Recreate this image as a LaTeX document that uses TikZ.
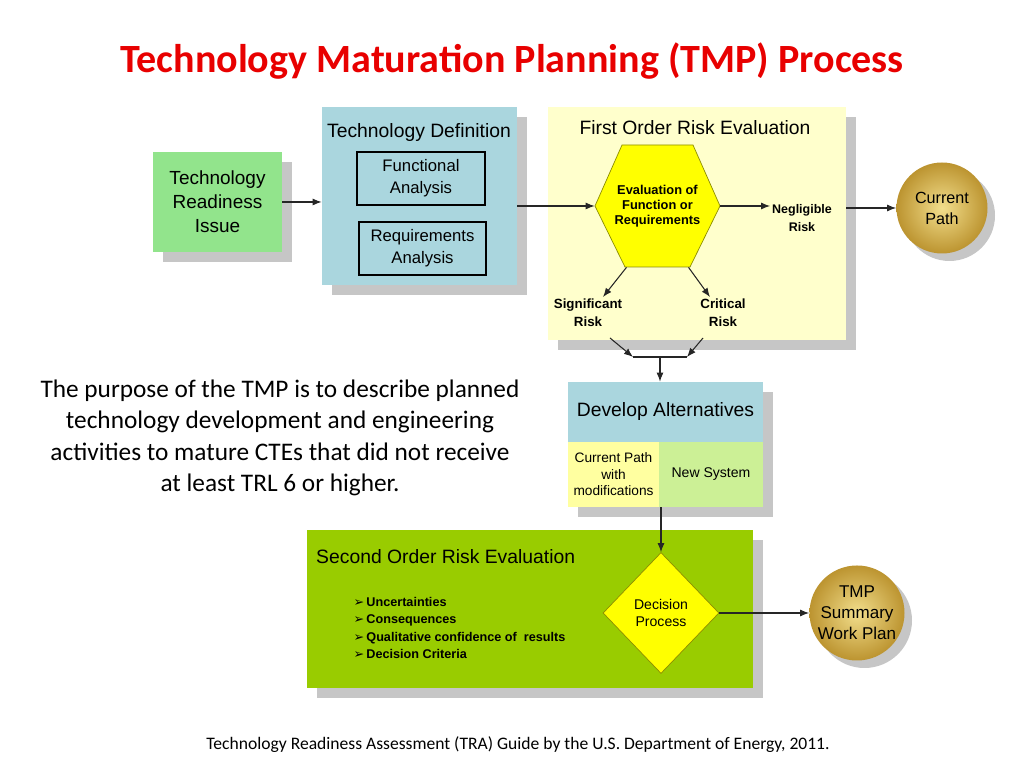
\documentclass[tikz,border=0pt]{standalone}
\usepackage{fontspec}
\setmainfont{Carlito}
\newfontfamily\diagfont{Liberation Sans}
\newfontfamily\symfont{DejaVu Sans}
\usetikzlibrary{arrows.meta,positioning,calc,shapes.geometric,shadows}
\definecolor{titlered}{RGB}{232,0,0}
\definecolor{issuegreen}{RGB}{146,228,140}
\definecolor{defblue}{RGB}{170,214,222}
\definecolor{riskyellow}{RGB}{255,255,204}
\definecolor{hexyellow}{RGB}{255,255,0}
\definecolor{hexedge}{RGB}{140,140,0}
\definecolor{secgreen}{RGB}{153,204,0}
\definecolor{modyellow}{RGB}{255,255,160}
\definecolor{newgreen}{RGB}{204,240,150}
\definecolor{goldlt}{RGB}{242,222,140}
\definecolor{golddk}{RGB}{188,148,48}
\definecolor{shadowgray}{RGB}{198,198,198}
\newcommand{\bulletmark}{{\symfont ➢}}

\begin{document}
\begin{tikzpicture}[
    panel/.style={rectangle, draw=none, inner sep=0pt, drop shadow={shadow xshift=0.2cm, shadow yshift=-0.2cm, fill=shadowgray, opacity=1}},
    inbox/.style={rectangle, draw, line width=0.9pt, inner sep=0pt, minimum height=1.06cm, font=\diagfont\fontsize{9.5}{12.5}\selectfont, align=center},
    gold/.style={circle, inner color=goldlt, outer color=golddk, minimum size=1.82cm, inner sep=0pt, align=center, drop shadow={shadow xshift=0.15cm, shadow yshift=-0.15cm, fill=shadowgray, opacity=1}},
    head/.style={font=\diagfont\fontsize{11}{13}\selectfont},
    small/.style={font=\diagfont\bfseries\fontsize{7.6}{10.2}\selectfont, align=center, inner sep=1pt},
    arr/.style={-{Latex[length=1.8mm,width=1.4mm]}, line width=0.6pt, black!85}
]
    \useasboundingbox (0,0) rectangle (20.48,15.36);

    % Title
    \node[font=\bfseries\fontsize{22.8}{26}\selectfont, text=titlered] (title) at (10.24,14.13) {Technology Maturation Planning (TMP) Process};

    % Technology readiness issue
    \node[panel, fill=issuegreen, minimum width=2.58cm, minimum height=2cm, align=center,
          font=\diagfont\fontsize{10.8}{13.6}\selectfont] (issue) at (4.35,11.32) {Technology\\Readiness\\Issue};

    % Technology definition
    \node[panel, fill=defblue, minimum width=3.9cm, minimum height=3.56cm] (techdef) at (8.39,11.44) {};
    \node[head] (techdef-title) at (8.38,12.7) {Technology Definition};
    \node[inbox, minimum width=2.56cm] (func) at (8.42,11.79) {Functional\\Analysis};
    \node[inbox, minimum width=2.54cm] (req) at (8.45,10.39) {Requirements\\Analysis};

    % First order risk evaluation
    \node[panel, fill=riskyellow, minimum width=5.96cm, minimum height=4.66cm] (firstrisk) at (13.94,10.89) {};
    \node[head] (firstrisk-title) at (13.9,12.8) {First Order Risk Evaluation};
    \coordinate (evalc) at (13.15,11.24);
    \draw[hexedge, fill=hexyellow] ($(evalc)+(-1.25,0)$) -- ++(0.54,1.22) -- ++(1.42,0) -- ++(0.54,-1.22)
        -- ++(-0.6,-1.22) -- ++(-1.3,0) -- cycle;
    \node[minimum width=2.5cm, minimum height=2.44cm, inner sep=0pt, align=center,
          font=\diagfont\bfseries\fontsize{7.3}{8.6}\selectfont] (eval) at (evalc) {Evaluation of\\Function or\\Requirements};
    \node[small, font=\diagfont\bfseries\fontsize{7.1}{10.2}\selectfont] (negl) at (16.04,11.0) {Negligible\\Risk};
    \node[small] (sig) at (11.76,9.1) {Significant\\Risk};
    \node[small] (crit) at (14.46,9.1) {Critical\\Risk};

    % Current path
    \node[gold, font=\diagfont\fontsize{9.2}{11.9}\selectfont] (current) at (18.84,11.2) {Current\\Path};

    % Develop alternatives
    \node[panel, fill=defblue, minimum width=3.9cm, minimum height=1.2cm, head] (devalt) at (13.31,7.12) {Develop Alternatives};
    \node[panel, fill=modyellow, minimum width=1.82cm, minimum height=1.3cm, align=center,
          font=\diagfont\fontsize{7.8}{9.4}\selectfont] (curmod) at (12.27,5.87) {Current Path\\with\\modifications};
    \node[panel, fill=newgreen, minimum width=2.08cm, minimum height=1.3cm,
          font=\diagfont\fontsize{8}{10}\selectfont] (newsys) at (14.22,5.87) {New System};

    % Second order risk evaluation
    \node[panel, fill=secgreen, minimum width=8.92cm, minimum height=3.16cm] (secrisk) at (10.6,3.18) {};
    \node[head, anchor=west] (secrisk-title) at (6.2,4.22) {Second Order Risk Evaluation};
    \node[anchor=west, align=left, font=\diagfont\bfseries\fontsize{7.2}{9.8}\selectfont] (criteria) at (6.95,2.8)
        {\bulletmark\,Uncertainties\\\bulletmark\,Consequences\\\bulletmark\,Qualitative confidence of\ \ results\\\bulletmark\,Decision Criteria};
    \node[diamond, draw=hexedge, fill=hexyellow, minimum width=2.32cm, minimum height=2.42cm, inner sep=0pt, align=center,
          font=\diagfont\fontsize{8}{10.2}\selectfont] (decision) at (13.22,3.1) {Decision\\Process};

    % TMP summary
    \node[gold, font=\diagfont\fontsize{9.7}{11.9}\selectfont] (tmp) at (17.14,3.1) {TMP\\Summary\\Work Plan};

    % Purpose text and source
    \node[align=center, font=\fontsize{14.4}{17.9}\selectfont] (purpose) at (5.6,6.6)
        {The purpose of the TMP is to describe planned\\technology development and engineering\\activities to mature CTEs that did not receive\\at least TRL 6 or higher.};
    \node[font=\fontsize{10}{12}\selectfont] (source) at (10.36,0.46)
        {Technology Readiness Assessment (TRA) Guide by the U.S. Department of Energy, 2011.};

    % Connectors
    \draw[arr] (issue.east) -- (techdef.west |- issue.east);
    \draw[arr] (techdef.east |- eval.west) -- (eval.west);
    \draw[arr] (eval.east) -- (eval.east -| negl.west);
    \draw[arr] ($(eval.south)+(-0.62,0)$) -- ($(sig.north)+(0.3,0)$);
    \draw[arr] ($(eval.south)+(0.62,0)$) -- ($(crit.north)+(-0.26,0)$);
    \draw[arr] (firstrisk.east |- current.west) -- (current.west);

    \coordinate (sl) at (12.2,8.6);
    \coordinate (sr) at (14.06,8.6);
    \coordinate (jl) at (12.66,8.22);
    \coordinate (jr) at (13.74,8.22);
    \coordinate (jm) at (13.2,8.22);
    \draw[arr] (sl) -- (jl);
    \draw[arr] (sr) -- (jr);
    \draw[line width=0.6pt, black!85] (jl) -- (jr);
    \draw[arr] (jm) -- (jm |- devalt.north);

    \draw[arr] (decision.north |- curmod.south) -- (decision.north);
    \draw[arr] (decision.east) -- (tmp.west);
\end{tikzpicture}
\end{document}
